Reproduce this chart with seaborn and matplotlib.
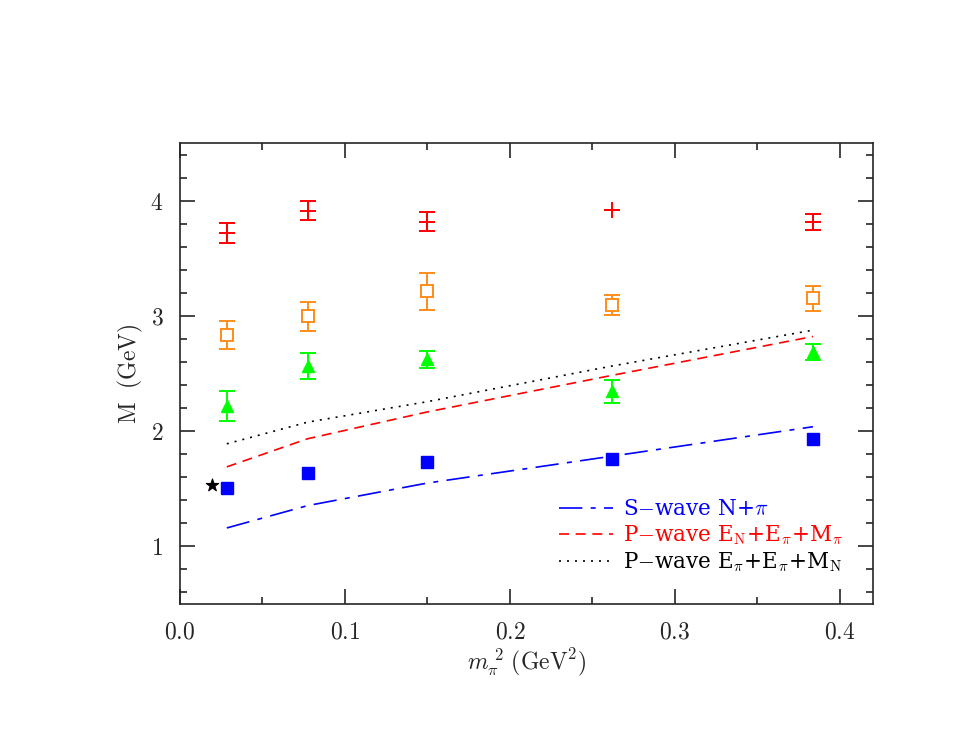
import matplotlib
matplotlib.use('Agg')
import matplotlib.pyplot as plt
import seaborn as sns
import pandas as pd
from matplotlib.ticker import MultipleLocator, FuncFormatter

# m_pi^2 values (GeV^2)
mpi2 = [0.0284, 0.0774, 0.1497, 0.2619, 0.3836]

# red states (plus markers)
red_m = [3.72, 3.913, 3.815, 3.92, 3.812]
red_err = [0.085, 0.081, 0.083, 0.0, 0.07]
# orange open squares
orange_m = [2.832, 2.995, 3.215, 3.096, 3.151]
orange_err = [0.12, 0.126, 0.16, 0.085, 0.105]
# green triangles
green_m = [2.217, 2.565, 2.623, 2.345, 2.69]
green_err = [0.13, 0.116, 0.072, 0.10, 0.07]
# blue filled squares
blue_m = [1.508, 1.638, 1.73, 1.754, 1.93]
blue_err = [0.03, 0.02, 0.015, 0.015, 0.015]

# thresholds
s_wave = [1.16, 1.354, 1.549, 1.783, 2.038]
p_wave_n = [1.69, 1.934, 2.166, 2.484, 2.821]
p_wave_pi = [1.89, 2.078, 2.255, 2.565, 2.876]

# physical point (star)
phys_x = [0.0195]
phys_m = [1.535]

sns.set_style('ticks')
plt.rcParams['font.family'] = ['DejaVu Serif']
plt.rcParams['mathtext.fontset'] = 'cm'

fig = plt.figure(figsize=(9.67, 7.47), dpi=100)
ax = fig.add_axes([0.1861, 0.1914, 0.7167, 0.6172])

lines = pd.DataFrame({'x': mpi2, 's': s_wave, 'pn': p_wave_n, 'ppi': p_wave_pi})
sns.lineplot(data=lines, x='x', y='s', ax=ax, color='blue', lw=1.2,
             label=r'S$-$wave N+$\pi$').lines[-1].set_dashes([14, 5, 3, 5])
sns.lineplot(data=lines, x='x', y='pn', ax=ax, color='red', lw=1.2,
             label=r'P$-$wave E$_\mathrm{N}$+E$_\pi$+M$_\pi$').lines[-1].set_dashes([6, 4])
sns.lineplot(data=lines, x='x', y='ppi', ax=ax, color='black', lw=1.2,
             label=r'P$-$wave E$_\pi$+E$_\pi$+M$_\mathrm{N}$').lines[-1].set_dashes([1.2, 3.6])

ax.errorbar(mpi2, red_m, yerr=red_err, fmt='+', color='red', ms=11, mew=1.4,
            elinewidth=1.4, capsize=5.5, capthick=1.4)
ax.errorbar(mpi2, orange_m, yerr=orange_err, fmt='s', color='#ff8c1a', mfc='white',
            ms=8, mew=1.4, elinewidth=1.4, capsize=5.5, capthick=1.4)
ax.errorbar(mpi2, green_m, yerr=green_err, fmt='^', color='#00ff00', ms=9,
            elinewidth=1.4, capsize=5.5, capthick=1.4)
ax.errorbar(mpi2, blue_m, yerr=blue_err, fmt='s', color='blue', ms=8,
            elinewidth=1.4, capsize=4, capthick=1.4)
sns.scatterplot(x=phys_x, y=phys_m, ax=ax, marker='*', color='black', s=90,
                edgecolor='black', zorder=5)

ax.set_xlim(0, 0.42)
ax.set_ylim(0.5, 4.5)
ax.xaxis.set_major_locator(MultipleLocator(0.1))
ax.xaxis.set_minor_locator(MultipleLocator(0.05))
ax.yaxis.set_major_locator(MultipleLocator(1))
ax.yaxis.set_minor_locator(MultipleLocator(0.2))
ax.xaxis.set_major_formatter(FuncFormatter(lambda v, p: r'$\mathrm{%.1f}$' % v))
ax.yaxis.set_major_formatter(FuncFormatter(lambda v, p: r'$\mathrm{%d}$' % v))
ax.tick_params(which='both', direction='in', top=True, right=True, width=1.2, labelsize=17)
ax.tick_params(which='major', length=11, pad=12)
ax.tick_params(which='minor', length=5)
for sp in ax.spines.values():
    sp.set_linewidth(1.2)

ax.set_xlabel(r'$m_\pi^{\ 2}\ \mathrm{(GeV^2)}$', fontsize=17, labelpad=2)
ax.set_ylabel(r'$\mathrm{M\ \ (GeV)}$', fontsize=17, labelpad=4)

leg = ax.legend(loc='lower right', frameon=False, fontsize=15.5, handlelength=2.5,
                handletextpad=0.5, labelspacing=0.15, borderaxespad=1.0,
                labelcolor='linecolor')

fig.savefig('out.png', dpi=100)
